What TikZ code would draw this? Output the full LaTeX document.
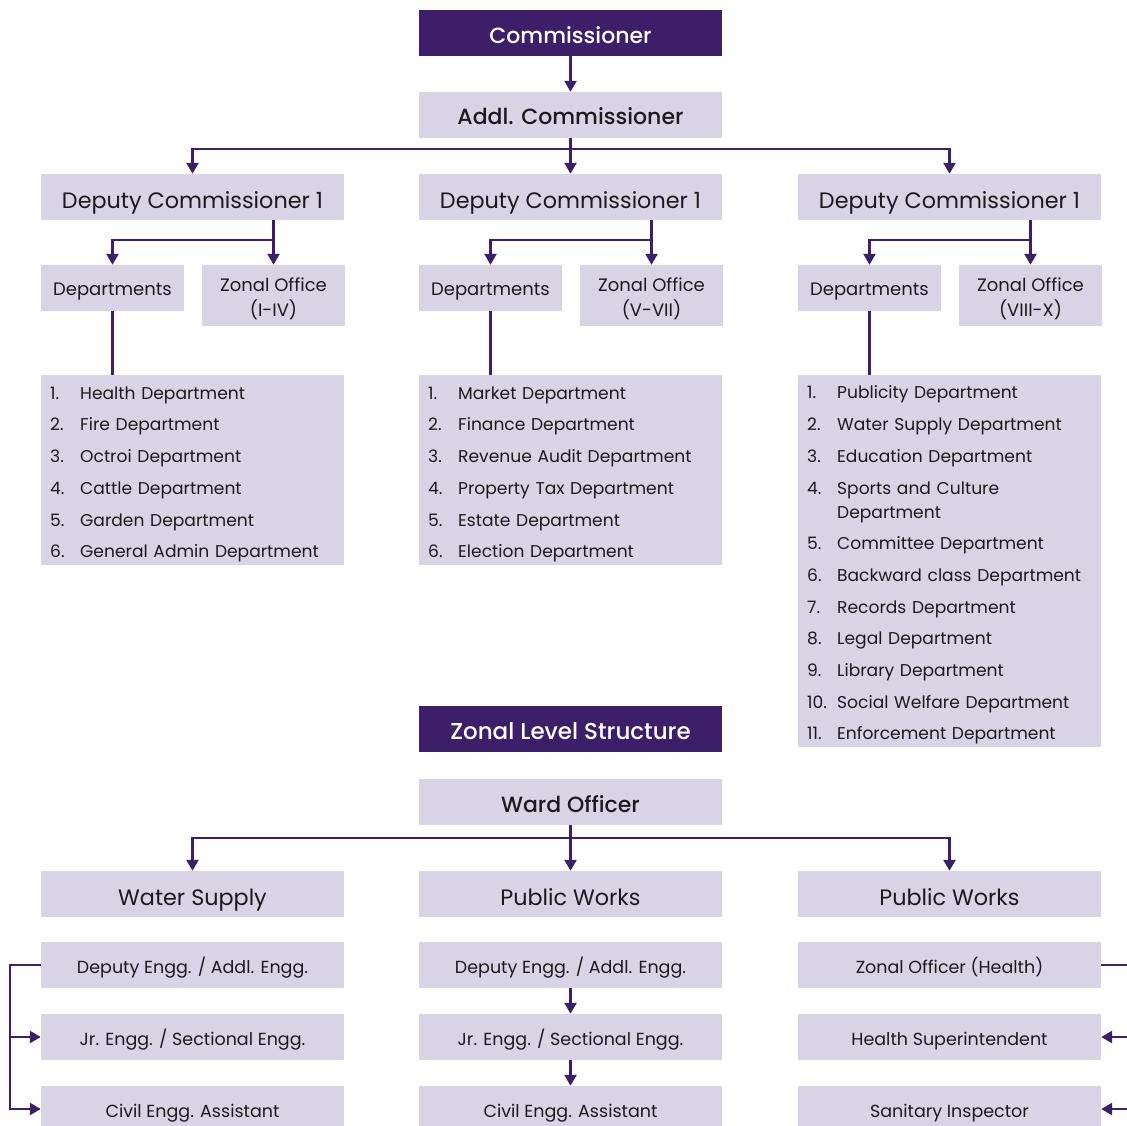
\documentclass[tikz,border=0pt]{standalone}
\usepackage{fontspec}
\setmainfont{Poppins}
\newfontfamily\pmed{Poppins Medium}
\usetikzlibrary{arrows.meta,positioning,calc}
\definecolor{dkp}{HTML}{3D1E68}
\definecolor{lav}{HTML}{D9D3E6}
\definecolor{txt}{HTML}{1C1A1E}
\begin{document}
\begin{tikzpicture}[x=1pt,y=-1pt,
  dark/.style={fill=dkp,text=white,minimum width=303pt,minimum height=46pt,inner sep=0pt,text height=20.6pt,text depth=0pt,font=\pmed\fontsize{22}{26}\selectfont},
  boxl/.style={fill=lav,text=txt,minimum width=303pt,minimum height=46pt,inner sep=0pt,text height=22.2pt,text depth=0pt,font=\fontsize{22.3}{26}\selectfont},
  boxb/.style={boxl,text height=20pt,font=\pmed\fontsize{22}{26}\selectfont},
  boxs/.style={fill=lav,text=txt,minimum width=303pt,minimum height=46pt,inner sep=0pt,text height=16.6pt,text depth=0pt,font=\fontsize{17.5}{21}\selectfont},
  half/.style={fill=lav,text=txt,minimum width=143pt,inner sep=0pt,align=center,font=\fontsize{18}{25}\selectfont},
  listbox/.style={fill=lav,text=txt,anchor=north west,minimum width=303pt,inner xsep=9pt,inner ysep=0pt,text width=285pt,align=left,font=\fontsize{17.1}{31.7}\selectfont},
  conn/.style={draw=dkp,line width=2.6pt},
  arr/.style={conn,-{Triangle[width=12pt,length=11pt]}}
]
\clip (0,0) rectangle (1127,1126);
\newcommand\itm[2]{\makebox[30pt][l]{#1}#2}
\newcommand\topstrut{\rule{0pt}{21pt}}
% top
\node[dark] (com) at (570.5,33) {Commissioner};
\node[boxb] (addl) at (570.5,115) {Addl. Commissioner};
\foreach \i/\x in {1/192.5,2/570.5,3/949.5}{
  \node[boxl] (dep\i) at (\x,197) {Deputy Commissioner 1};
  \node[half,minimum height=46pt,text height=14.4pt,text depth=0pt] (dpt\i) at (\x-80,288) {Departments};
  \node[half,minimum height=61pt] (zon\i) at (\x+81,295.5) {\rule{0pt}{20.3pt}Zonal Office\\(\ifcase\i\or I-IV\or V-VII\or VIII-X\fi)};
  \coordinate (br\i) at (\x,240);
}
\draw[arr] (com) -- (addl);
\draw[arr] (addl) -- (dep2);
\coordinate (hb) at (570.5,149);
\draw[arr] (addl.south) |- (hb) -| (dep1.north);
\draw[arr] (addl.south) |- (hb) -| (dep3.north);
\foreach \i in {1,2,3}{
  \draw[arr] (zon\i.north |- dep\i.south) -- (zon\i.north);
  \draw[arr] (zon\i.north |- br\i) -| (dpt\i.north);
}
% lists
\node[listbox,minimum height=190pt] (l1) at (41,375) {%
\topstrut\itm{1.}{Health Department}\\
\itm{2.}{Fire Department}\\
\itm{3.}{Octroi Department}\\
\itm{4.}{Cattle Department}\\
\itm{5.}{Garden Department}\\
\itm{6.}{General Admin Department}};
\node[listbox,minimum height=190pt] (l2) at (419,375) {%
\topstrut\itm{1.}{Market Department}\\
\itm{2.}{Finance Department}\\
\itm{3.}{Revenue Audit Department}\\
\itm{4.}{Property Tax Department}\\
\itm{5.}{Estate Department}\\
\itm{6.}{Election Department}};
\node[listbox,minimum height=372pt] (l3) at (798,375) {%
\topstrut\itm{1.}{Publicity Department}\\
\itm{2.}{Water Supply Department}\\
\itm{3.}{Education Department}\\
\itm{4.}{Sports and Culture}\\[-7.7pt]
\itm{}{Department}\\
\itm{5.}{Committee Department}\\
\itm{6.}{Backward class Department}\\
\itm{7.}{Records Department}\\
\itm{8.}{Legal Department}\\
\itm{9.}{Library Department}\\
\itm{10.}{Social Welfare Department}\\
\itm{11.}{Enforcement Department}};
\foreach \i in {1,2,3}{
  \draw[conn] (dpt\i.south) -- (dpt\i.south |- l\i.north);
}
% zonal level
\node[dark,font=\pmed\fontsize{23}{26}\selectfont,text height=20pt] (zls) at (570.5,729) {Zonal Level Structure};
\node[boxb] (ward) at (570.5,802) {Ward Officer};
\node[boxl] (ws) at (192.5,894) {Water Supply};
\node[boxl] (pw) at (570.5,894) {Public Works};
\node[boxl] (ph) at (949.5,894) {Public Works};
\coordinate (hb2) at (570.5,838);
\draw[arr] (ward) -- (pw);
\draw[arr] (ward.south) |- (hb2) -| (ws.north);
\draw[arr] (ward.south) |- (hb2) -| (ph.north);
% bottom rows
\node[boxs] (a1) at (192.5,965) {Deputy Engg. / Addl. Engg.};
\node[boxs] (a2) at (192.5,1037) {Jr. Engg. / Sectional Engg.};
\node[boxs] (a3) at (192.5,1109) {Civil Engg. Assistant};
\node[boxs] (b1) at (570.5,965) {Deputy Engg. / Addl. Engg.};
\node[boxs] (b2) at (570.5,1037) {Jr. Engg. / Sectional Engg.};
\node[boxs] (b3) at (570.5,1109) {Civil Engg. Assistant};
\node[boxs] (c1) at (949.5,965) {Zonal Officer (Health)};
\node[boxs] (c2) at (949.5,1037) {Health Superintendent};
\node[boxs] (c3) at (949.5,1109) {Sanitary Inspector};
\coordinate (lx) at (10,0);
\coordinate (rx) at (1140,0);
\draw[arr] (a1.west) -| (lx |- a3.west) -- (a3.west);
\draw[arr] (lx |- a2.west) -- (a2.west);
\draw[arr] (c1.east) -| (rx |- c3.east) -- (c3.east);
\draw[arr] (rx |- c2.east) -- (c2.east);
\draw[arr] (b1) -- (b2);
\draw[arr] (b2) -- (b3);
\end{tikzpicture}
\end{document}
